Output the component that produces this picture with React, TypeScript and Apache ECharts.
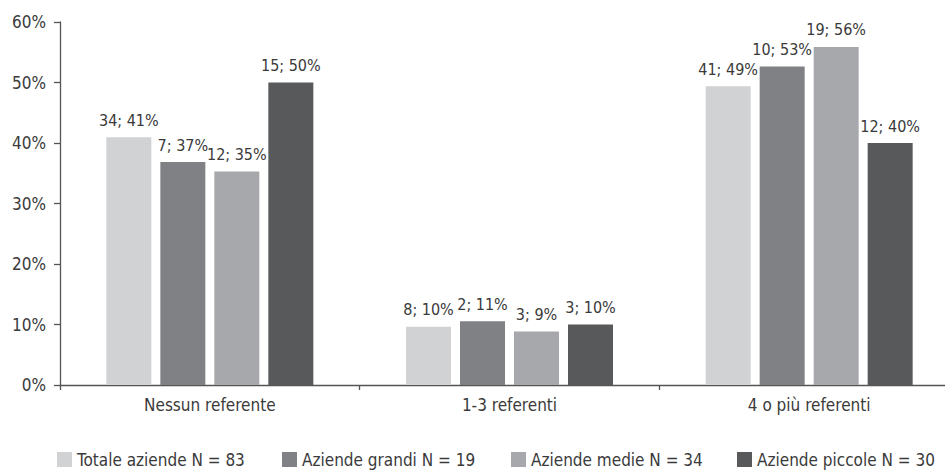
import React, { useEffect, useRef } from "react";
import * as echarts from "echarts";

// Response categories on the x axis
const categories = ["Nessun referente", "1-3 referenti", "4 o più referenti"];

// Company groups, their sizes and bar colours
const groupNames = ["Totale aziende", "Aziende grandi", "Aziende medie", "Aziende piccole"];
const groupSizes = [83, 19, 34, 30];
const groupColors = ["#d1d2d4", "#808184", "#a7a8ab", "#58595b"];

// Number of companies per category, one array per group
const countsTotale = [34, 8, 41];
const countsGrandi = [7, 2, 10];
const countsMedie = [12, 3, 19];
const countsPiccole = [15, 3, 12];
const groupCounts = [countsTotale, countsGrandi, countsMedie, countsPiccole];

// Y axis range (percent)
const yMin = 0;
const yMax = 60;
const yStep = 10;

// Legend item left offsets
const legendLefts = [57, 282, 511, 737];

const FONT = "'Liberation Sans Narrow', 'Arial Narrow', 'DejaVu Sans Condensed', sans-serif";
const TEXT = "#3a3a3a";
const AXIS = "#555555";

export default function App() {
  const ref = useRef<HTMLDivElement>(null);

  useEffect(() => {
    if (!ref.current) return;
    const chart = echarts.init(ref.current, null, { renderer: "svg" });

    const legendLabel = (i: number) => `${groupNames[i]} N = ${groupSizes[i]}`;

    const series = groupNames.map((_, gi) => ({
      name: legendLabel(gi),
      type: "bar" as const,
      barWidth: 45,
      barGap: "20%",
      itemStyle: { color: groupColors[gi] },
      data: groupCounts[gi].map((c) => ({ value: (c / groupSizes[gi]) * 100, count: c })),
      label: {
        show: true,
        position: "top" as const,
        distance: 9,
        fontFamily: FONT,
        fontSize: 16,
        color: TEXT,
        formatter: (p: any) => `${p.data.count}; ${Math.round(p.value)}%`,
      },
    }));

    chart.setOption({
      animation: false,
      textStyle: { fontFamily: FONT },
      // The plot area runs past the right edge, so the last category boundary is off-canvas
      grid: {
        left: 60,
        width: 899,
        top: 22,
        bottom: 86,
        containLabel: false,
        outerBoundsMode: "none",
      },
      legend: groupNames.map((_, gi) => ({
        data: [legendLabel(gi)],
        left: legendLefts[gi],
        top: 451,
        padding: 0,
        icon: "rect",
        itemWidth: 15,
        itemHeight: 15,
        itemGap: 0,
        selectedMode: false,
        textStyle: { fontFamily: FONT, fontSize: 17, color: TEXT },
      })),
      xAxis: {
        type: "category",
        data: categories,
        axisLine: { show: true, lineStyle: { color: AXIS, width: 1.3 } },
        axisTick: { show: true, length: 5, lineStyle: { color: AXIS, width: 1.3 } },
        axisLabel: { fontFamily: FONT, fontSize: 17, color: TEXT, margin: 11 },
      },
      yAxis: {
        type: "value",
        min: yMin,
        max: yMax,
        interval: yStep,
        axisLine: { show: true, lineStyle: { color: AXIS, width: 1.3 } },
        axisTick: { show: true, length: 6, lineStyle: { color: AXIS, width: 1.3 } },
        splitLine: { show: false },
        axisLabel: {
          fontFamily: FONT,
          fontSize: 17,
          color: TEXT,
          margin: 14,
          formatter: "{value}%",
        },
      },
      series,
    });

    return () => chart.dispose();
  }, []);

  return (
    <div
      ref={ref}
      style={{ position: "fixed", left: 0, top: 0, width: 945, height: 471, background: "#ffffff" }}
    />
  );
}
